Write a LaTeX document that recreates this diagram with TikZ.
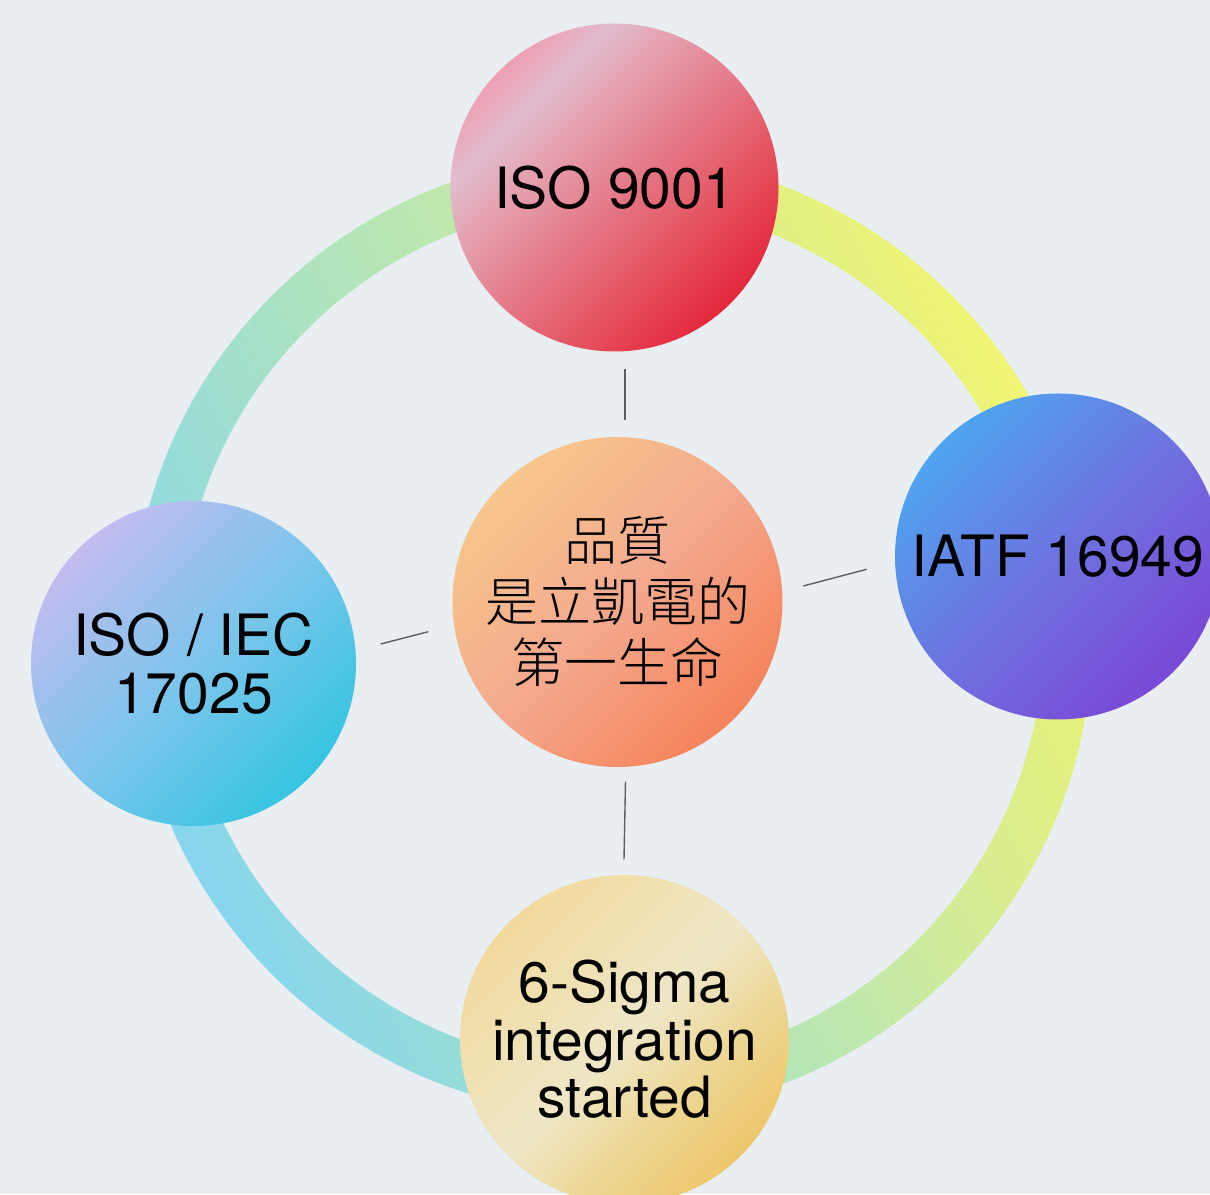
\documentclass[tikz,border=0pt]{standalone}
\usepackage{fontspec}
\setmainfont{TeX Gyre Heros}
\newfontfamily\cjk{Noto Sans CJK TC}[UprightFont=* Light]
\definecolor{bg}{HTML}{E9EEF2}
\definecolor{linegray}{HTML}{5E5E5E}
% ring colours
\definecolor{rga}{HTML}{86D6EE}
\definecolor{rgb}{HTML}{97DCD9}
\definecolor{rgc}{HTML}{B6E6B4}
\definecolor{rgd}{HTML}{C0E8AC}
\definecolor{rge}{HTML}{D2EB98}
\definecolor{rgf}{HTML}{E3F07E}
\definecolor{rgg}{HTML}{F1F573}
% top circle
\definecolor{ta}{HTML}{E4283C}
\definecolor{tb}{HTML}{E5525F}
\definecolor{tc}{HTML}{E57D8C}
\definecolor{td}{HTML}{E5A2B0}
\definecolor{te}{HTML}{E1BDCF}
\definecolor{tf}{HTML}{EDA0B2}
% right circle
\definecolor{ra}{HTML}{7A48D5}
\definecolor{rb}{HTML}{6E72E0}
\definecolor{rc}{HTML}{4FA4EF}
% left circle
\definecolor{la}{HTML}{36C5E1}
\definecolor{lb}{HTML}{7EC5EC}
\definecolor{lc}{HTML}{9CC0EE}
\definecolor{ld}{HTML}{C4BCF0}
% bottom circle
\definecolor{ba}{HTML}{EEC76C}
\definecolor{bb}{HTML}{EDD795}
\definecolor{bc}{HTML}{EEE6C6}
\definecolor{bd}{HTML}{F0E1B3}
\definecolor{be}{HTML}{F2D99E}
% centre circle
\definecolor{ca}{HTML}{F5835A}
\definecolor{cb}{HTML}{F4A98E}
\definecolor{cc}{HTML}{F7C68B}
\pgfdeclareverticalshading{ringgrad}{100bp}{color(0bp)=(rga); color(25bp)=(rga); color(33bp)=(rgb); color(48.5bp)=(rgc); color(52.5bp)=(rgd); color(59bp)=(rge); color(69bp)=(rgf); color(75bp)=(rgg); color(100bp)=(rgg)}
\pgfdeclareverticalshading{topgrad}{100bp}{color(0bp)=(ta); color(25bp)=(ta); color(37bp)=(tb); color(50bp)=(tc); color(61bp)=(td); color(68bp)=(te); color(75bp)=(tf); color(100bp)=(tf)}
\pgfdeclareverticalshading{rightgrad}{100bp}{color(0bp)=(ra); color(25bp)=(ra); color(50bp)=(rb); color(75bp)=(rc); color(100bp)=(rc)}
\pgfdeclareverticalshading{leftgrad}{100bp}{color(0bp)=(la); color(25bp)=(la); color(50bp)=(lb); color(62bp)=(lc); color(75bp)=(ld); color(100bp)=(ld)}
\pgfdeclareverticalshading{bottomgrad}{100bp}{color(0bp)=(ba); color(25bp)=(ba); color(38bp)=(bb); color(50bp)=(bc); color(62bp)=(bd); color(75bp)=(be); color(100bp)=(be)}
\pgfdeclareverticalshading{centergrad}{100bp}{color(0bp)=(ca); color(25bp)=(ca); color(50bp)=(cb); color(75bp)=(cc); color(100bp)=(cc)}
\tikzset{
  bubble/.style={circle, inner sep=0pt, shade, shading angle=45, text=black, align=center,
    font=\fontsize{57}{57.5}\selectfont},
  cjkbubble/.style={bubble, font=\cjk\fontsize{53}{61}\selectfont},
  tick/.style={draw=linegray, line width=1.4pt}
}
\begin{document}
\begin{tikzpicture}[x=1pt,y=1pt]
\useasboundingbox (0,0) rectangle (1210,1194);
\clip (0,0) rectangle (1210,1194);
\fill[bg] (0,0) rectangle (1210,1194);
% ring
\shade[shading=ringgrad, shading angle=-63.4, even odd rule]
  (612,559) circle (480.35) (612,559) circle (431.65);
% circles
\node[bubble, shading=topgrad, minimum size=328pt] (iso) at (614.5,1006.5) {ISO 9001};
\node[bubble, shading=rightgrad, minimum size=326pt] (iatf) at (1058,637.5) {IATF 16949};
\node[bubble, shading=leftgrad, minimum size=325pt] (iec) at (193.5,530.5) {ISO / IEC\\17025};
\node[bubble, shading=bottomgrad, minimum size=329pt] (sigma) at (624.5,154.5) {6-Sigma\\integration\\started};
\node[cjkbubble, shading=centergrad, minimum size=330pt] (core) at (617.5,592) {品質\\是立凱電的\\第一生命};
% short connector strokes
\coordinate (t1) at (625,825);
\coordinate (t2) at (625,774);
\coordinate (b1) at (625.5,412.3);
\coordinate (b2) at (624,334.7);
\coordinate (r1) at (803.3,608);
\coordinate (r2) at (866.7,624.7);
\coordinate (l1) at (380.7,550);
\coordinate (l2) at (428.3,562.3);
\draw[tick] (t1) -- (t2);
\draw[tick] (b1) -- (b2);
\draw[tick] (r1) -- (r2);
\draw[tick] (l1) -- (l2);
\end{tikzpicture}
\end{document}
